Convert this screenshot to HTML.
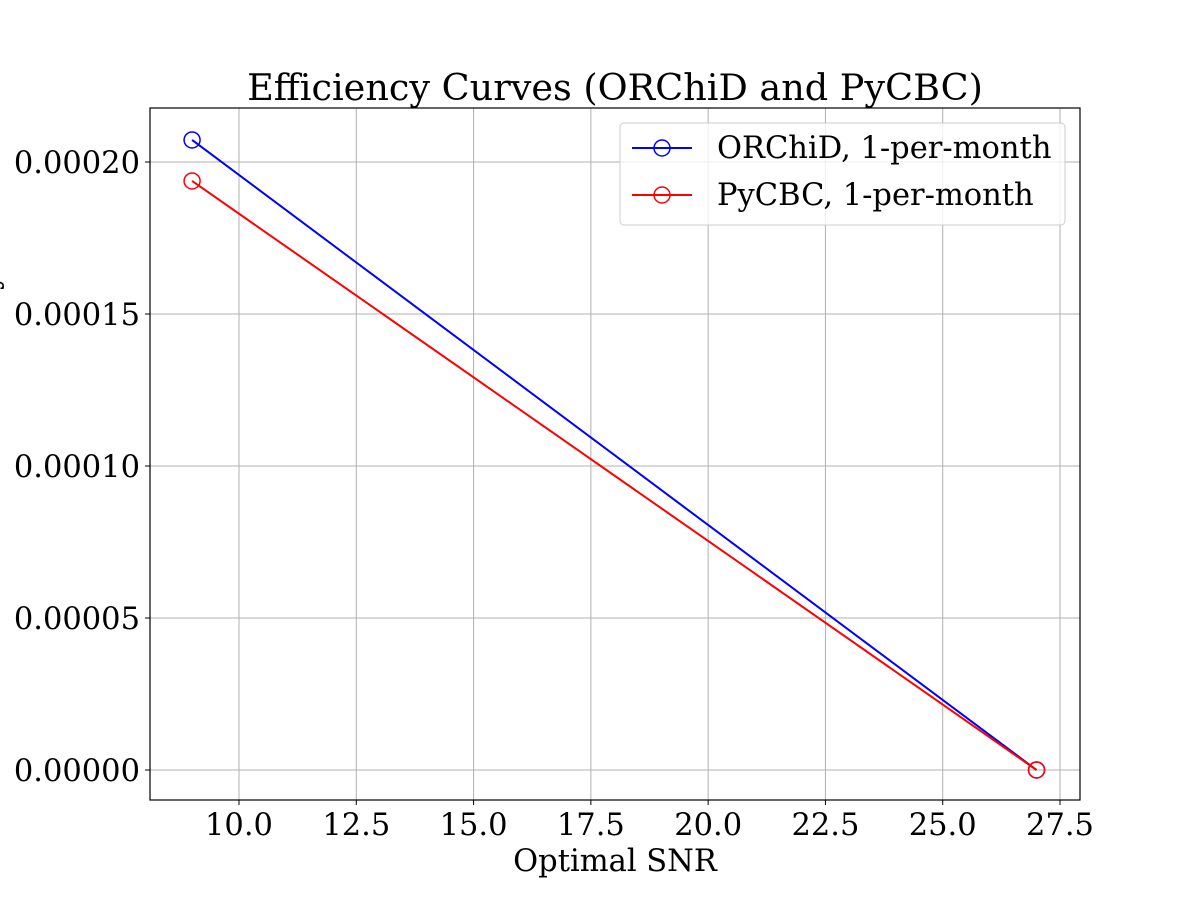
<!DOCTYPE html>
<html><head><meta charset="utf-8"><style>
body{margin:0;background:#fff}
svg text{font-family:"DejaVu Serif","Liberation Serif",serif;fill:#000}
</style></head><body>
<svg id="chart" width="1200" height="900" xmlns="http://www.w3.org/2000/svg">
<text x="615" y="100" font-size="36.6" text-anchor="middle">Efficiency Curves (ORChiD and PyCBC)</text>
<text x="615" y="871" font-size="30.5" text-anchor="middle">Optimal SNR</text>
<text transform="translate(-3,349) rotate(-90)" font-size="30.5" text-anchor="middle">Efficiency</text>
<g id="grid"></g>
<g id="ticks"></g>
<g id="series"></g>
<rect x="150" y="108" width="930" height="692" fill="none" stroke="#000" stroke-width="1.2"/>
<g id="legend">
<rect x="620" y="123" width="445" height="102" rx="4" fill="#fff" fill-opacity="0.8" stroke="#ccc"/>
<line x1="632" y1="148" x2="692" y2="148" stroke="#0000ff" stroke-width="2"/>
<circle cx="662" cy="148" r="8" fill="none" stroke="#0000ff" stroke-width="1.5"/>
<text x="717" y="158" font-size="30.5">ORChiD, 1-per-month</text>
<line x1="632" y1="195" x2="692" y2="195" stroke="#ff0000" stroke-width="2"/>
<circle cx="662" cy="195" r="8" fill="none" stroke="#ff0000" stroke-width="1.5"/>
<text x="717" y="205" font-size="30.5">PyCBC, 1-per-month</text>
</g>
</svg>
<script>
const xValues=[9,27];
const orchidValues=[0.00020724,0];
const pycbcValues=[0.00019375,0];
const xTicks=[10,12.5,15,17.5,20,22.5,25,27.5];
const xTickLabels=["10.0","12.5","15.0","17.5","20.0","22.5","25.0","27.5"];
const yTicks=[0,0.00005,0.0001,0.00015,0.0002];
const yTickLabels=["0.00000","0.00005","0.00010","0.00015","0.00020"];
const NS="http://www.w3.org/2000/svg";
const L=150,R=1080,T=108,B=800;
const xmin=8.103,xmax=27.926,ymin=-0.00000987,ymax=0.00021776;
const sx=v=>L+(v-xmin)/(xmax-xmin)*(R-L);
const sy=v=>B-(v-ymin)/(ymax-ymin)*(B-T);
function mk(tag,attrs,parent){const e=document.createElementNS(NS,tag);for(const k in attrs)e.setAttribute(k,attrs[k]);parent.appendChild(e);return e;}
const grid=document.getElementById('grid'),ticks=document.getElementById('ticks'),series=document.getElementById('series');
xTicks.forEach((v,i)=>{const x=sx(v);
const g=mk('line',{x1:x,x2:x,y1:T,y2:B,stroke:'#b0b0b0','stroke-width':1},grid);


const t=mk('line',{x1:x,x2:x,y1:B,y2:B+5,stroke:'#000','stroke-width':1},ticks);


const l=mk('text',{x:x,y:B+35,'font-size':30.5,'text-anchor':'middle'},ticks);l.textContent=xTickLabels[i];

});
yTicks.forEach((v,i)=>{const y=sy(v);
const g=mk('line',{x1:L,x2:R,y1:y,y2:y,stroke:'#b0b0b0','stroke-width':1},grid);


const t=mk('line',{x1:L-5,x2:L,y1:y,y2:y,stroke:'#000','stroke-width':1},ticks);


const l=mk('text',{x:L-10,y:y+11,'font-size':30.5,'text-anchor':'end'},ticks);l.textContent=yTickLabels[i];

});
function drawSeries(vals,color,name){
const pts=xValues.map((x,i)=>sx(x)+','+sy(vals[i])).join(' ');
const p=mk('polyline',{points:pts,fill:'none',stroke:color,'stroke-width':2},series);


xValues.forEach((x,i)=>{const c=mk('circle',{cx:sx(x),cy:sy(vals[i]),r:8,fill:'none',stroke:color,'stroke-width':1.5},series);

});}
drawSeries(orchidValues,'#0000ff','orchid');
drawSeries(pycbcValues,'#ff0000','pycbc');
</script>
</body></html>
